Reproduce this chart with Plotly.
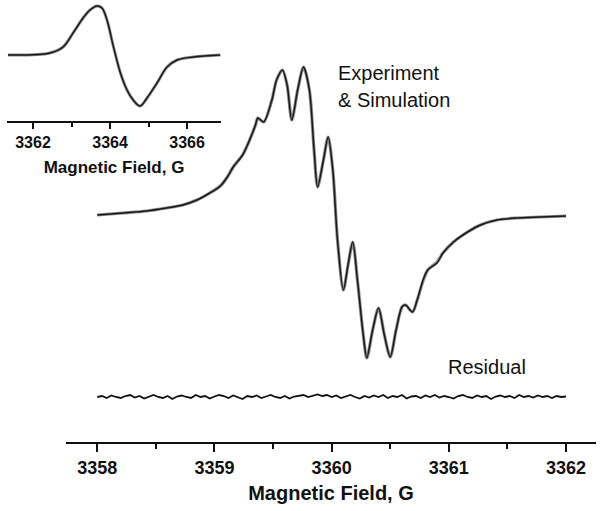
import plotly.graph_objects as go

W, H = 602, 511

# ---- main spectrum (field in G, intensity in a.u.) ----
main_field = [3358.00, 3358.22, 3358.42, 3358.59, 3358.73, 3358.85, 3358.96, 3359.05,
              3359.11, 3359.16, 3359.24, 3359.30, 3359.35, 3359.37, 3359.42, 3359.49,
              3359.53, 3359.58, 3359.62, 3359.66, 3359.71, 3359.76, 3359.81, 3359.85,
              3359.88, 3359.93, 3359.97, 3360.01, 3360.05, 3360.10, 3360.14, 3360.18,
              3360.22, 3360.27, 3360.30, 3360.35, 3360.40, 3360.45, 3360.50, 3360.55,
              3360.60, 3360.63, 3360.69, 3360.73, 3360.78, 3360.82, 3360.90, 3360.95,
              3361.04, 3361.16, 3361.27, 3361.41, 3361.58, 3361.78, 3362.00]
experiment = [0.00, 0.02, 0.04, 0.07, 0.10, 0.15, 0.22, 0.29,
              0.38, 0.48, 0.60, 0.75, 0.90, 0.97, 0.93, 1.15,
              1.35, 1.45, 1.30, 0.95, 1.25, 1.48, 1.25, 0.65,
              0.28, 0.55, 0.78, 0.45, -0.25, -0.75, -0.50, -0.27,
              -0.65, -1.20, -1.43, -1.15, -0.93, -1.20, -1.42, -1.15,
              -0.92, -0.90, -0.97, -0.85, -0.65, -0.55, -0.48, -0.38,
              -0.27, -0.17, -0.10, -0.05, -0.03, -0.02, -0.01]
simulation = [0.00, 0.02, 0.04, 0.07, 0.10, 0.15, 0.22, 0.29,
              0.38, 0.48, 0.60, 0.75, 0.90, 0.97, 0.93, 1.15,
              1.35, 1.45, 1.30, 0.95, 1.25, 1.48, 1.25, 0.65,
              0.28, 0.55, 0.78, 0.45, -0.25, -0.75, -0.50, -0.27,
              -0.65, -1.20, -1.43, -1.15, -0.93, -1.20, -1.42, -1.15,
              -0.92, -0.90, -0.97, -0.85, -0.66, -0.55, -0.47, -0.38,
              -0.27, -0.17, -0.10, -0.05, -0.03, -0.02, -0.01]

# ---- residual (offset below the spectrum) ----
residual_field = [3358.00 + 0.04 * i for i in range(101)]
residual_offset = -1.82
residual = [0.00, 0.01, -0.01, 0.015, 0.00, -0.01, 0.01, 0.02, -0.005, 0.01,
            -0.015, 0.005, 0.02, 0.00, -0.01, 0.01, -0.02, 0.005, 0.015, 0.00,
            -0.01, 0.02, 0.00, 0.01, -0.015, 0.005, 0.02, 0.01, -0.01, 0.015,
            0.00, -0.02, 0.01, 0.00, 0.015, -0.01, 0.005, 0.02, 0.00, -0.01,
            0.01, -0.015, 0.005, 0.01, 0.02, 0.00, 0.015, 0.025, 0.01, 0.02,
            0.00, 0.015, -0.01, 0.005, 0.02, 0.00, -0.015, 0.01, -0.005, 0.015,
            0.00, 0.02, -0.01, 0.01, 0.00, 0.02, -0.015, 0.005, 0.01, -0.01,
            0.015, 0.00, 0.02, -0.005, 0.01, 0.00, -0.015, 0.01, 0.02, 0.00,
            -0.01, 0.015, 0.00, 0.01, -0.02, 0.005, 0.015, 0.00, 0.01, -0.01,
            0.02, 0.00, 0.01, -0.005, 0.015, 0.00, 0.01, -0.01, 0.01, 0.00, 0.005]

# ---- inset spectrum ----
inset_field = [3361.35, 3362.44, 3362.78, 3363.04, 3363.30, 3363.48, 3363.66, 3363.79,
               3363.92, 3364.09, 3364.27, 3364.44, 3364.60, 3364.78, 3364.96, 3365.22,
               3365.48, 3365.74, 3366.16, 3366.86]
inset_signal = [0.00, 0.04, 0.16, 0.44, 0.74, 0.90, 0.98, 0.94,
                0.70, 0.16, -0.36, -0.70, -0.90, -1.02, -0.86, -0.56,
                -0.24, -0.10, -0.04, 0.00]

main_ticks = [3358, 3359, 3360, 3361, 3362]
inset_ticks = [3362, 3364, 3366]

FONT = "Arial, Liberation Sans, sans-serif"

def px(x):
    return x / W

def py(y):
    return 1 - y / H

fig = go.Figure()

fig.add_trace(go.Scatter(x=main_field, y=simulation, mode="lines",
                         line=dict(color="#8a8a8a", width=3.2, shape="spline", smoothing=0.8),
                         xaxis="x", yaxis="y", showlegend=False))
fig.add_trace(go.Scatter(x=main_field, y=experiment, mode="lines",
                         line=dict(color="#1a1a1a", width=1.5, shape="spline", smoothing=0.8),
                         xaxis="x", yaxis="y", showlegend=False))
fig.add_trace(go.Scatter(x=residual_field, y=[residual_offset + r for r in residual], mode="lines",
                         line=dict(color="#111111", width=1.8),
                         xaxis="x", yaxis="y", showlegend=False))

fig.add_trace(go.Scatter(x=inset_field, y=inset_signal, mode="lines",
                         line=dict(color="#8a8a8a", width=3, shape="spline", smoothing=1.0),
                         xaxis="x2", yaxis="y2", showlegend=False))
fig.add_trace(go.Scatter(x=inset_field, y=inset_signal, mode="lines",
                         line=dict(color="#1a1a1a", width=1.4, shape="spline", smoothing=1.0),
                         xaxis="x2", yaxis="y2", showlegend=False))

fig.update_layout(
    width=W, height=H,
    margin=dict(l=0, r=0, t=0, b=0),
    paper_bgcolor="white", plot_bgcolor="rgba(0,0,0,0)",
    xaxis=dict(domain=[px(66), px(596)], range=[3357.733, 3362.256],
               showline=True, linecolor="#111", linewidth=2,
               ticks="outside", ticklen=8, tickwidth=2, tickcolor="#111",
               tickvals=main_ticks, ticktext=[str(t) for t in main_ticks],
               minor=dict(dtick=0.5, tick0=3358, ticks="outside", ticklen=5, tickwidth=2, tickcolor="#111"),
               showgrid=False, zeroline=False,
               tickfont=dict(family=FONT, size=18, color="#111", weight="bold"),
               title=dict(text="Magnetic Field, G", font=dict(family=FONT, size=20, color="#111", weight="bold"),
                          standoff=9),
               anchor="y"),
    yaxis=dict(domain=[1 - 442 / H, 1], range=[-2.27, 2.15], visible=False, anchor="x"),
    xaxis2=dict(domain=[px(7), px(221)], range=[3361.325, 3366.88],
                showline=True, linecolor="#111", linewidth=2,
                ticks="outside", ticklen=6, tickwidth=2, tickcolor="#111",
                tickvals=inset_ticks, ticktext=[str(t) for t in inset_ticks],
                minor=dict(dtick=1, tick0=3362, ticks="outside", ticklen=4, tickwidth=2, tickcolor="#111"),
                showgrid=False, zeroline=False,
                tickfont=dict(family=FONT, size=16, color="#111", weight="bold"),
                title=dict(text="Magnetic Field, G", font=dict(family=FONT, size=17, color="#111", weight="bold"),
                           standoff=11),
                anchor="y2"),
    yaxis2=dict(domain=[1 - 121 / H, 1], range=[-1.32, 1.1], visible=False, anchor="x2"),
    annotations=[
        dict(text="Experiment", x=px(336), y=py(73), xref="paper", yref="paper",
             xanchor="left", yanchor="middle", showarrow=False,
             font=dict(family=FONT, size=20, color="#111")),
        dict(text="& Simulation", x=px(336), y=py(100), xref="paper", yref="paper",
             xanchor="left", yanchor="middle", showarrow=False,
             font=dict(family=FONT, size=20, color="#111")),
        dict(text="Residual", x=px(446), y=py(367), xref="paper", yref="paper",
             xanchor="left", yanchor="middle", showarrow=False,
             font=dict(family=FONT, size=20, color="#111")),
    ],
)

fig.write_html("out.html", config={"displayModeBar": False},
               post_script="document.body.style.margin='0';document.body.style.padding='0';")
